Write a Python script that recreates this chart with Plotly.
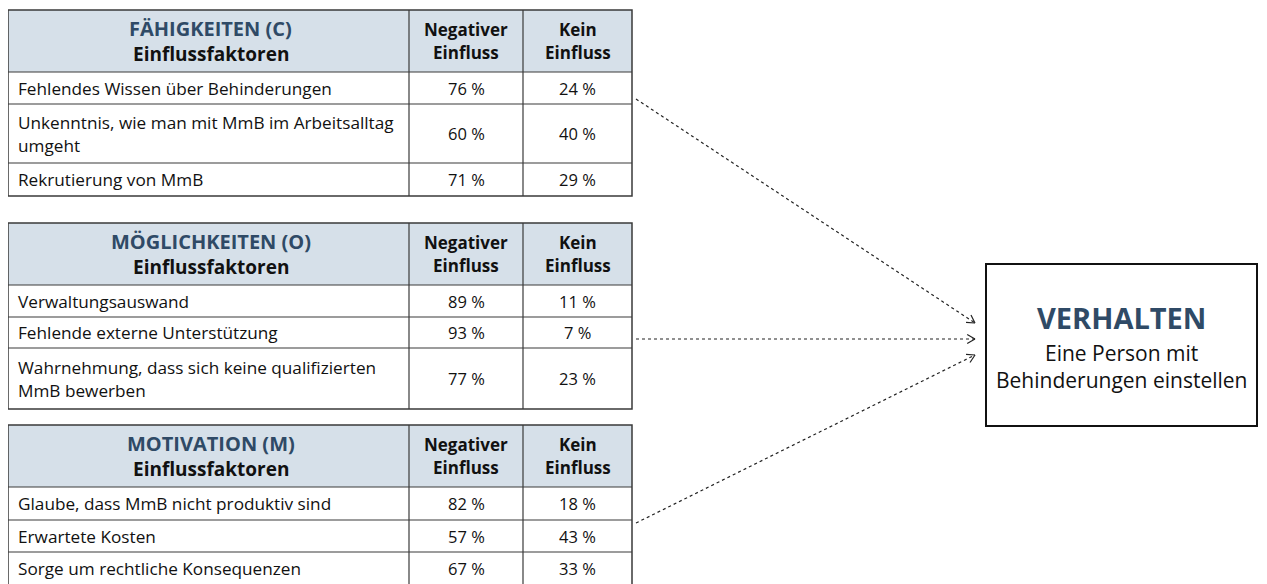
import math
import plotly.graph_objects as go

# --- data -------------------------------------------------------------
GROUPS = ["FÄHIGKEITEN (C)", "MÖGLICHKEITEN (O)", "MOTIVATION (M)"]

FACTORS_C = ["Fehlendes Wissen über Behinderungen",
             "Unkenntnis, wie man mit MmB im Arbeitsalltag<br>umgeht",
             "Rekrutierung von MmB"]
NEG_C = [76, 60, 71]
NONE_C = [24, 40, 29]

FACTORS_O = ["Verwaltungsauswand",
             "Fehlende externe Unterstützung",
             "Wahrnehmung, dass sich keine qualifizierten<br>MmB bewerben"]
NEG_O = [89, 93, 77]
NONE_O = [11, 7, 23]

FACTORS_M = ["Glaube, dass MmB nicht produktiv sind",
             "Erwartete Kosten",
             "Sorge um rechtliche Konsequenzen"]
NEG_M = [82, 57, 67]
NONE_M = [18, 43, 33]

HEADER_SUB = "Einflussfaktoren"
COL_HEADS = ["Negativer<br>Einfluss", "Kein<br>Einfluss"]
TARGET_TITLE = "VERHALTEN"
TARGET_TEXT = ["Eine Person mit", "Behinderungen einstellen"]

# --- layout (pixel space) ----------------------------------------------
W, H = 1267, 584
OFF = 8  # page body margin
FONT = "Open Sans"
NAVY = "#2f4a66"
HEAD_FILL = "#d6e0e9"
LINE = "#3a3a3a"

COLS = [8, 409, 523, 632]
TABLES = [
    dict(top=10, rows=[32, 59, 33], factors=FACTORS_C, neg=NEG_C, none=NONE_C),
    dict(top=223, rows=[32, 31, 61], factors=FACTORS_O, neg=NEG_O, none=NONE_O),
    dict(top=425, rows=[33, 32, 33], factors=FACTORS_M, neg=NEG_M, none=NONE_M),
]
HEAD_H = 62
BOX = (986, 264, 1257, 426)
LINE_H = 23

fig = go.Figure()
shapes = []
ann = []


def text(x, y, s, size=16, color="#111", bold=False, anchor="center"):
    if bold:
        s = "<b>" + s + "</b>"
    ann.append(dict(x=x, y=y, xref="x", yref="y", text=s, showarrow=False,
                    xanchor=anchor, yanchor="middle",
                    font=dict(family=FONT, size=size, color=color)))


def lines_text(x, yc, s, **kw):
    parts = s.split("<br>")
    n = len(parts)
    for i, p in enumerate(parts):
        text(x, yc + (i - (n - 1) / 2) * LINE_H, p, **kw)


for g, t in zip(GROUPS, TABLES):
    top = t["top"]
    bottom = top + HEAD_H + sum(t["rows"])
    shapes.append(dict(type="rect", x0=COLS[0], x1=COLS[3], y0=top, y1=top + HEAD_H,
                       fillcolor=HEAD_FILL, line=dict(width=0), layer="below"))
    shapes.append(dict(type="rect", x0=COLS[0], x1=COLS[3], y0=top, y1=bottom,
                       line=dict(color=LINE, width=1.5)))
    for cx in COLS[1:3]:
        shapes.append(dict(type="line", x0=cx, x1=cx, y0=top, y1=bottom,
                           line=dict(color=LINE, width=1.2)))
    # header
    hc = top + HEAD_H / 2
    cmid = (COLS[0] + COLS[1]) / 2 + 2
    text(cmid, hc - 12.5, g, size=20, color=NAVY, bold=True)
    text(cmid, hc + 12.5, HEADER_SUB, size=19, color="#111", bold=True)
    for j, h in enumerate(COL_HEADS):
        lines_text((COLS[j + 1] + COLS[j + 2]) / 2, hc, h, size=17, bold=True)
    # rows
    y = top + HEAD_H
    for f, n1, n2, rh in zip(t["factors"], t["neg"], t["none"], t["rows"]):
        shapes.append(dict(type="line", x0=COLS[0], x1=COLS[3], y0=y, y1=y,
                           line=dict(color=LINE, width=1.2)))
        yc = y + rh / 2
        lines_text(COLS[0] + 8, yc, f, size=17.2, anchor="left")
        text((COLS[1] + COLS[2]) / 2, yc, f"{n1} %", size=16.5)
        text((COLS[2] + COLS[3]) / 2, yc, f"{n2} %", size=16.5)
        y += rh

# target box
shapes.append(dict(type="rect", x0=BOX[0], y0=BOX[1], x1=BOX[2], y1=BOX[3],
                   line=dict(color="#111", width=2), fillcolor="white"))
bx = (BOX[0] + BOX[2]) / 2
text(bx, 317, TARGET_TITLE, size=29, color=NAVY, bold=True)
text(bx, 353, TARGET_TEXT[0], size=21)
text(bx, 380, TARGET_TEXT[1], size=21)

# dashed arrows from tables to target
ARROWS = [((636, 99), (975, 323)), ((636, 339), (975, 339)), ((636, 523), (975, 355))]
for (x0, y0), (x1, y1) in ARROWS:
    fig.add_trace(go.Scatter(x=[x0, x1], y=[y0, y1], mode="lines",
                             line=dict(color="#222", width=1.2, dash="3px,3px"),
                             hoverinfo="skip", showlegend=False))
    ang = math.atan2(y1 - y0, x1 - x0)
    hx, hy = [], []
    for da in (math.radians(150), math.radians(-150)):
        hx += [x1 + 9 * math.cos(ang + da), x1, None]
        hy += [y1 + 9 * math.sin(ang + da), y1, None]
    fig.add_trace(go.Scatter(x=hx, y=hy, mode="lines",
                             line=dict(color="#222", width=1.2),
                             hoverinfo="skip", showlegend=False))

fig.update_layout(
    width=W - OFF, height=H - OFF, margin=dict(l=0, r=0, t=0, b=0),
    plot_bgcolor="white", paper_bgcolor="white",
    xaxis=dict(range=[OFF, W], visible=False, fixedrange=True),
    yaxis=dict(range=[H, OFF], visible=False, fixedrange=True),
    shapes=shapes, annotations=ann,
)

fig.write_html("out.html")
